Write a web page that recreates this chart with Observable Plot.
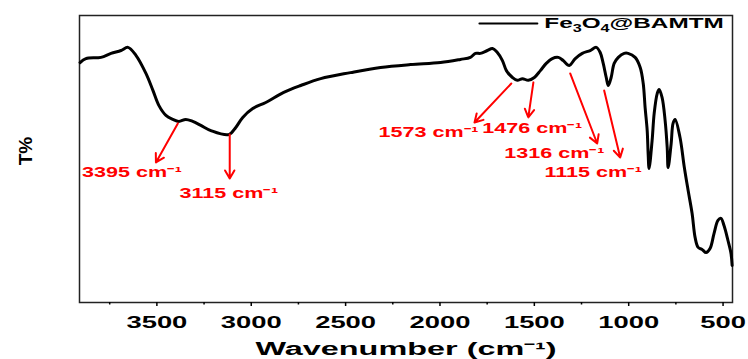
<!DOCTYPE html>
<html><head><meta charset="utf-8">
<script src="https://cdn.jsdelivr.net/npm/d3@7"></script>
<script src="https://cdn.jsdelivr.net/npm/@observablehq/plot@0.6"></script>
<style>body{margin:0;background:#fff}</style>
</head><body><div id="chart"></div>
<script>
// Spectrum (wavenumber in cm-1, transmittance in arbitrary %)
const wavenumbers = [3907,3876,3796,3743,3690,3653,3611,3558,3521,3489,3452,3415,3384,3347,3310,3267,3214,3119,3082,3045,2992,2923,2828,2738,2632,2474,2315,2156,1997,1892,1839,1812,1786,1749,1722,1696,1669,1648,1616,1590,1563,1532,1500,1468,1437,1405,1373,1347,1315,1283,1246,1204,1172,1151,1135,1119,1108,1093,1077,1055,1024,1003,966,939,923,913,902,897,892,876,865,849,839,823,807,796,791,775,765,754,728,706,685,664,648,632,611,590,569,548,527,511,495,474,458,452];
const transmittance = [83.6,85.0,85.4,86.8,87.8,88.9,86.1,79.8,73.9,68.6,65.2,63.8,63.1,63.8,63.1,61.7,59.9,58.5,61.0,64.5,67.6,69.7,73.2,75.6,78.0,80.1,81.9,82.9,83.6,84.7,85.4,86.8,86.8,87.8,88.5,87.1,84.3,80.8,78.4,77.4,78.0,77.4,78.4,80.8,83.3,85.0,85.4,84.3,82.6,85.0,86.8,87.8,88.9,87.1,83.3,78.4,75.6,78.4,83.3,85.4,86.8,86.8,85.4,81.9,76.3,67.9,59.9,51.9,46.7,56.4,65.9,72.8,74.2,71.4,63.4,54.0,47.0,55.4,62.4,63.8,57.5,47.4,39.0,31.0,22.6,19.2,18.5,17.4,18.8,24.0,28.6,29.3,26.8,21.6,17.1,12.9];

const xTicks = [3500,3000,2500,2000,1500,1000,500];
const xMinorTicks = [3750,3250,2750,2250,1750,1250,750];

// Peak annotations
const peakLabels = ["3395 cm⁻¹","3115 cm⁻¹","1573 cm⁻¹","1476 cm⁻¹","1316 cm⁻¹","1115 cm⁻¹"];
const arrowFromX = [3389,3114,1622,1505,1310,1130];
const arrowFromY = [62.4,58.5,76.3,76.7,79.8,73.9];
const arrowToX   = [3505,3114,1817,1532,1167,1045];
const arrowToY   = [48.8,43.2,62.7,64.5,55.4,50.5];
const labelX     = [3632,3119,2061,1511,1394,1188];
const labelY     = [45.3,38.0,59.2,60.6,51.9,45.3];

const seriesName = "Fe3O4@BAMTM";
const seriesParts = [["Fe", false], ["3", true], ["O", false], ["4", true], ["@BAMTM", false]];
const legendLineX = [1791,1484];
const legendY = 97.2;
const legendTextX = 1447;
const xLabel = "Wavenumber (cm⁻¹)";
const yLabel = "T%";

const spectrum = wavenumbers.map((w,i)=>({w, t: transmittance[i]}));
const notes = peakLabels.map((label,i)=>({label, x1:arrowFromX[i], y1:arrowFromY[i], x2:arrowToX[i], y2:arrowToY[i], lx:labelX[i], ly:labelY[i]}));
const legendLine = legendLineX.map(x=>({x, y: legendY}));

const red = "#ff0000";
const svg = Plot.plot({
  width: 748, height: 359,
  marginLeft: 79, marginRight: 16, marginTop: 15, marginBottom: 57,
  style: {fontFamily: "'Liberation Sans', Arial, sans-serif", fontWeight: "bold", background: "#fff", color: "#000"},
  x: {domain: [3910, 450]},
  y: {domain: [0, 100], axis: null},
  marks: [
    Plot.frame({stroke: "#222", strokeWidth: 1.5}),
    Plot.axisX({ticks: xMinorTicks, tickSize: 2.5, tickFormat: () => "", label: null, strokeWidth: 1.5}),
    Plot.axisX({ticks: xTicks, tickSize: 4, tickPadding: 9, fontSize: 17, label: null, strokeWidth: 1.5, tickFormat: d => String(d)}),
    Plot.line(spectrum, {x: "w", y: "t", stroke: "#000", strokeWidth: 3, curve: "catmull-rom"}),
    Plot.arrow(notes, {x1: "x1", y1: "y1", x2: "x2", y2: "y2", stroke: red, strokeWidth: 2, headLength: 7}),
    Plot.text(notes, {x: "lx", y: "ly", text: "label", fill: red, fontSize: 14, fontWeight: "bold", textAnchor: "middle", lineAnchor: "middle"}),
    Plot.line(legendLine, {x: "x", y: "y", stroke: "#000", strokeWidth: 2}),
    Plot.text([seriesName], {x: legendTextX, y: legendY, textAnchor: "start", lineAnchor: "middle", fontSize: 15, fontWeight: "bold", fill: "#000"}),
    Plot.text([xLabel], {frameAnchor: "bottom", dy: 47, textAnchor: "middle", lineAnchor: "middle", fontSize: 18, fontWeight: "bold", fill: "#000"}),
    Plot.text([yLabel], {frameAnchor: "left", dx: -54, dy: -8, rotate: -90, textAnchor: "middle", lineAnchor: "middle", fontSize: 19, fontWeight: "bold", fill: "#000"})
  ]
});
document.getElementById("chart").appendChild(svg);

// Subscripts in the legend name
svg.querySelectorAll("text").forEach(el => {
  if (el.textContent !== seriesName) return;
  el.textContent = "";
  let shifted = false;
  seriesParts.forEach(([s, sub]) => {
    const t = document.createElementNS("http://www.w3.org/2000/svg", "tspan");
    t.textContent = s;
    if (sub) { t.setAttribute("font-size", "10"); t.setAttribute("dy", shifted ? "0" : "4"); shifted = true; }
    else if (shifted) { t.setAttribute("dy", "-4"); shifted = false; }
    el.appendChild(t);
  });
  el.dataset.legend = "1";
});

// Horizontally widen glyphs (the reference uses a very wide bold face)
function widen(test, factor) {
  svg.querySelectorAll("text").forEach(el => {
    const s = el.textContent;
    if (!s || !test(el, s)) return;
    const len = el.getComputedTextLength();
    el.setAttribute("textLength", (len * factor).toFixed(1));
    el.setAttribute("lengthAdjust", "spacingAndGlyphs");
  });
}
widen((el, s) => /^\d{3,4}$/.test(s), 1.61);
widen((el, s) => peakLabels.includes(s), 1.54);
widen((el, s) => el.dataset.legend === "1", 1.62);
widen((el, s) => s === xLabel, 1.8);
</script>
</body></html>
